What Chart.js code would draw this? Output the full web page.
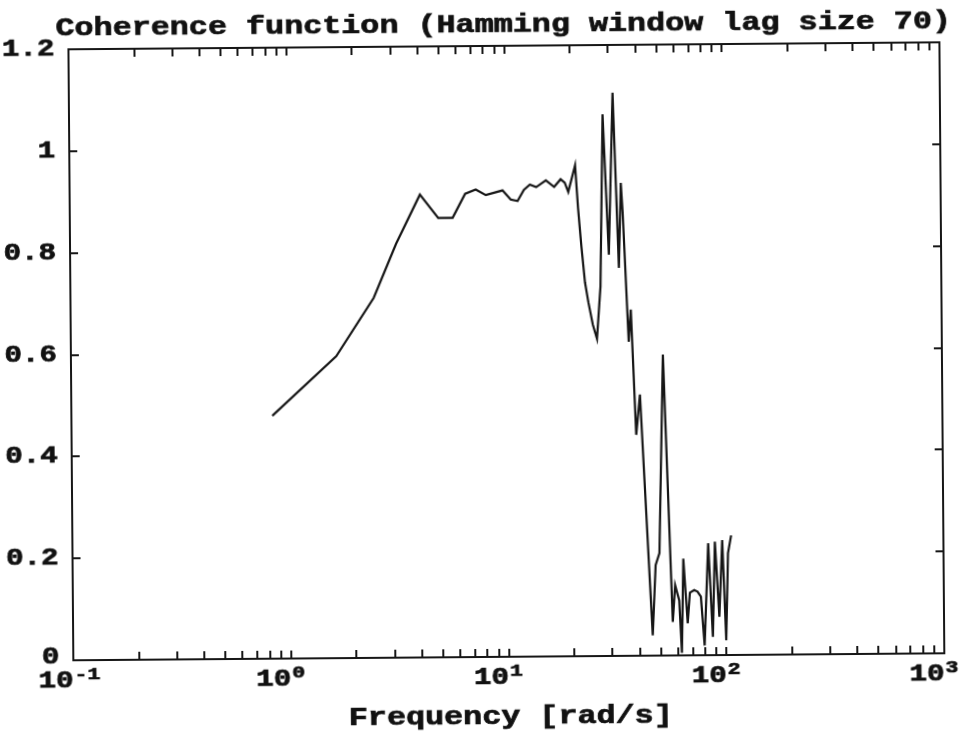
<!DOCTYPE html>
<html>
<head>
<meta charset="utf-8">
<title>Coherence function</title>
<script src="https://cdn.jsdelivr.net/npm/chart.js@4/dist/chart.umd.min.js"></script>
<style>
  html, body { margin: 0; padding: 0; background: #fff; overflow: hidden; }
  #wrap { width: 962px; height: 733px; transform: rotate(-0.46deg); }
</style>
</head>
<body>
<div id="wrap"><canvas id="chart" width="962" height="733"></canvas></div>
<script>
// frequency [rad/s] and coherence estimate
var freq = [0.837, 1.654, 2.47, 3.145, 4.06, 4.92, 5.73, 6.55, 7.33, 8.15,
            9.73, 10.6, 11.4, 12.2, 13.0, 13.9, 15.4, 16.8, 18.0, 18.8,
            19.5, 21.0, 21.6, 22.3, 23.1, 23.9, 25.0, 26.1, 27.2, 28.2,
            29.8, 31.4, 33.1, 34.0, 34.6, 36.5, 37.4, 39.2, 40.9, 45.9,
            47.6, 49.6, 52.3, 56.8, 58.4, 60.9, 62.4, 63.8, 66.5, 68.2,
            71.4, 73.9, 76.6, 79.4, 83.1, 86.7, 89.2, 93.0, 96.4, 99.8,
            102.4, 106.0];
var coherence = [0.477, 0.593, 0.707, 0.813, 0.909, 0.863, 0.863, 0.910, 0.918, 0.907,
                 0.916, 0.898, 0.895, 0.917, 0.927, 0.922, 0.935, 0.922, 0.937, 0.930,
                 0.912, 0.964, 0.880, 0.805, 0.734, 0.695, 0.651, 0.623, 0.726, 1.064,
                 0.788, 1.106, 0.762, 0.929, 0.871, 0.617, 0.680, 0.434, 0.513, 0.040,
                 0.178, 0.201, 0.591, 0.066, 0.138, 0.108, 0.005, 0.190, 0.063, 0.123,
                 0.128, 0.125, 0.115, 0.019, 0.220, 0.036, 0.223, 0.075, 0.226, 0.029,
                 0.200, 0.235];

var yTicks = [0, 0.2, 0.4, 0.6, 0.8, 1, 1.2];
var yTickLabels = ['0', '0.2', '0.4', '0.6', '0.8', '1', '1.2'];
var decades = [-1, 0, 1, 2, 3];
var decadeLabels = ['-1', '0', '1', '2', '3'];

var titleText = 'Coherence function (Hamming window lag size 70)';
var xTitleText = 'Frequency [rad/s]';

var FONT = '"Liberation Mono", "DejaVu Sans Mono", monospace';
var SX = 1.27;   // wide plotter lettering

function wideText(ctx, str, x, y, size, align) {
    ctx.save();
    ctx.font = 'bold ' + size + 'px ' + FONT;
    ctx.textAlign = align;
    ctx.textBaseline = 'alphabetic';
    ctx.translate(x, y);
    ctx.scale(SX, 1);
    ctx.lineWidth = 0.7;
    ctx.strokeStyle = '#111';
    ctx.fillText(str, 0, 0);
    ctx.strokeText(str, 0, 0);
    ctx.restore();
}

// box, inward ticks and all lettering
var framePlugin = {
    id: 'frame',
    afterDatasetsDraw: function(chart) {
        var ctx = chart.ctx;
        var a = chart.chartArea;
        var xs = chart.scales.x;
        var ys = chart.scales.y;

        ctx.save();
        ctx.strokeStyle = '#161616';
        ctx.lineWidth = 2;
        ctx.strokeRect(a.left, a.top, a.right - a.left, a.bottom - a.top);

        ctx.beginPath();
        for (var d = 0; d < decades.length - 1; d++) {
            for (var k = 2; k <= 10; k++) {
                var x = Math.round(xs.getPixelForValue(k * Math.pow(10, decades[d])));
                ctx.moveTo(x, a.bottom);
                ctx.lineTo(x, a.bottom - 8);
                ctx.moveTo(x, a.top);
                ctx.lineTo(x, a.top + 8);
            }
        }
        for (var i = 1; i < yTicks.length - 1; i++) {
            var y = Math.round(ys.getPixelForValue(yTicks[i]));
            ctx.moveTo(a.left, y);
            ctx.lineTo(a.left + 8, y);
            ctx.moveTo(a.right, y);
            ctx.lineTo(a.right - 8, y);
        }
        ctx.stroke();

        ctx.fillStyle = '#111';
        for (var j = 0; j < yTicks.length; j++) {
            var ty = ys.getPixelForValue(yTicks[j]);
            var dy = j === 0 ? 3 : 6;
            wideText(ctx, yTickLabels[j], a.left - 14, ty + dy, 23, 'right');
        }
        for (var m = 0; m < decades.length; m++) {
            var tx = xs.getPixelForValue(Math.pow(10, decades[m]));
            wideText(ctx, '10', tx, a.bottom + 27, 23, 'right');
            wideText(ctx, decadeLabels[m], tx + 1, a.bottom + 19, 17, 'left');
        }

        wideText(ctx, titleText, 506, 32, 25, 'center');
        wideText(ctx, xTitleText, 508, 724, 25, 'center');
        ctx.restore();
    }
};

var points = freq.map(function(f, i) {
    return { x: f, y: coherence[i] };
});

var ctx = document.getElementById('chart');
var myChart = new Chart(ctx, {
    type: 'line',
    data: {
        datasets: [
            {
                data: points,
                borderColor: '#161616',
                borderWidth: 2.2,
                pointRadius: 0,
                tension: 0,
                fill: false
            }
        ]
    },
    options: {
        responsive: false,
        animation: false,
        layout: {
            padding: { left: 71, right: 20, top: 46, bottom: 76 }
        },
        scales: {
            x: { type: 'logarithmic', min: 0.1, max: 1000, display: false },
            y: { type: 'linear', min: 0, max: 1.2, display: false }
        },
        plugins: {
            legend: { display: false },
            tooltip: { enabled: false }
        }
    },
    plugins: [framePlugin]
});
</script>
</body>
</html>
